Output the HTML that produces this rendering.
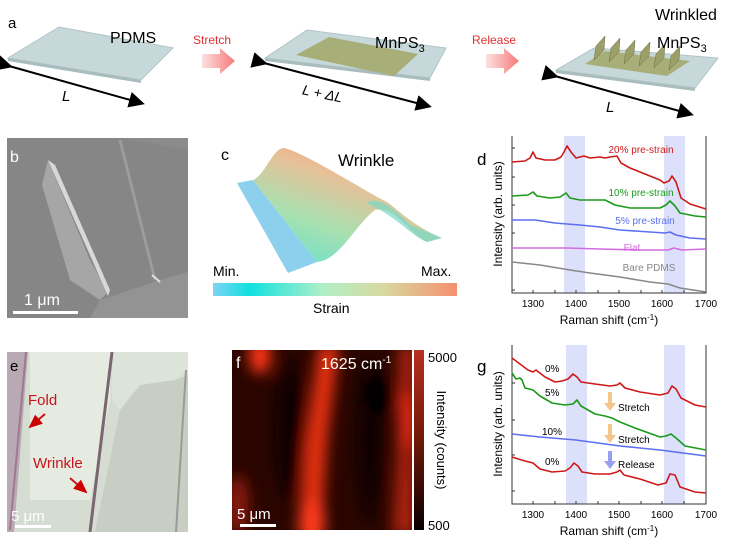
<!DOCTYPE html>
<html><head><meta charset="utf-8"><style>
html,body{margin:0;padding:0;background:#fff}
svg{display:block;font-family:"Liberation Sans",Arial,sans-serif}
</style></head><body>
<svg width="733" height="541" viewBox="0 0 733 541" xmlns="http://www.w3.org/2000/svg">
<defs>
<linearGradient id="pa" x1="0" x2="1"><stop offset="0" stop-color="#fde0e0"/><stop offset="1" stop-color="#f57a7a"/></linearGradient>
<linearGradient id="cb" x1="0" x2="1"><stop offset="0" stop-color="#7fd3f2"/><stop offset="0.15" stop-color="#10e0e0"/><stop offset="0.45" stop-color="#b0f0c8"/><stop offset="0.7" stop-color="#d8d8a0"/><stop offset="1" stop-color="#f5906e"/></linearGradient>
<linearGradient id="wr" x1="0" y1="1" x2="0.6" y2="0"><stop offset="0" stop-color="#60e0d0"/><stop offset="0.4" stop-color="#a8e0b0"/><stop offset="0.75" stop-color="#e8c098"/><stop offset="1" stop-color="#f09a80"/></linearGradient>
<linearGradient id="fcb" x1="0" y1="0" x2="0" y2="1"><stop offset="0" stop-color="#b83020"/><stop offset="0.5" stop-color="#701808"/><stop offset="1" stop-color="#080000"/></linearGradient>
<filter id="bl" x="-50%" y="-50%" width="200%" height="200%"><feGaussianBlur stdDeviation="7"/></filter>
<clipPath id="fc"><rect x="232" y="350" width="180" height="180"/></clipPath>
<clipPath id="ec"><rect x="7" y="352" width="181" height="180"/></clipPath>
<marker id="ah" markerWidth="8" markerHeight="8" refX="6" refY="4" orient="auto"><path d="M0,0 L8,4 L0,8 Z" fill="#000"/></marker>
<marker id="rh" markerWidth="8" markerHeight="8" refX="6" refY="4" orient="auto"><path d="M0,1 L7,4 L0,7 Z" fill="#c00"/></marker>
</defs>

<!-- Panel a -->
<text x="8" y="28" font-size="15">a</text>
<polygon points="8,58 59,27 173,48 141,80" fill="#c6d8da" stroke="#b0c4c6"/>
<polygon points="8,58 141,80 141,83 8,61" fill="#a9bcbe"/>
<line x1="9" y1="66" x2="141" y2="103" stroke="#000" stroke-width="2" marker-end="url(#ah)" marker-start="url(#ah)"/>
<text x="62" y="101" font-size="15" font-style="italic">L</text>
<text x="110" y="43" font-size="16">PDMS</text>
<text x="193" y="44" font-size="12" fill="#e03030">Stretch</text>
<polygon points="202,54 220,54 220,48 235,61 220,74 220,68 202,68" fill="url(#pa)"/>

<polygon points="265,58 307,30 446,48 430,78" fill="#c6d8da" stroke="#b0c4c6"/>
<polygon points="265,58 430,78 430,81 265,61" fill="#a9bcbe"/>
<polygon points="296,55 329,37 418,54 394,76" fill="#a8ae78"/>
<line x1="264" y1="63" x2="428" y2="106" stroke="#000" stroke-width="2" marker-end="url(#ah)" marker-start="url(#ah)"/>
<text x="302" y="100" font-size="14" font-style="italic" transform="rotate(12 330 95)">L + ΔL</text>
<text x="375" y="48" font-size="16">MnPS<tspan font-size="11" dy="4">3</tspan></text>
<text x="472" y="44" font-size="12" fill="#e03030">Release</text>
<polygon points="486,54 504,54 504,48 519,61 504,74 504,68 486,68" fill="url(#pa)"/>

<polygon points="556,70 594,48 718,58 695,88" fill="#c6d8da" stroke="#b0c4c6"/>
<polygon points="556,70 695,88 695,91 556,73" fill="#a9bcbe"/>
<polygon points="585,64 605,51 690,61 667,76" fill="#a8ae78"/>
<g fill="#9ca068" stroke="#6a6e48" stroke-width="0.5">
<polygon points="594,60 604,50 605,36 596,46"/>
<polygon points="609,62 619,52 620,38 611,48"/>
<polygon points="624,64 634,54 635,40 626,50"/>
<polygon points="639,66 649,56 650,42 641,52"/>
<polygon points="654,68 664,58 665,44 656,54"/>
<polygon points="669,70 679,60 680,46 671,56"/>
</g>
<line x1="555" y1="76" x2="690" y2="114" stroke="#000" stroke-width="2" marker-end="url(#ah)" marker-start="url(#ah)"/>
<text x="606" y="112" font-size="15" font-style="italic">L</text>
<text x="655" y="20" font-size="16">Wrinkled</text>
<text x="657" y="48" font-size="16">MnPS<tspan font-size="11" dy="4">3</tspan></text>

<!-- Panel b -->
<rect x="7" y="138" width="181" height="180" fill="#8b8b8b"/>
<polygon points="7,138 120,138 188,150 188,318 7,318" fill="#868686"/>
<polygon points="42,185 48,160 90,260 108,292 100,300 70,280" fill="#a6a6a6"/>
<polygon points="48,160 55,165 110,290 108,296" fill="#d8d8d8"/>
<line x1="120" y1="140" x2="155" y2="280" stroke="#9c9c9c" stroke-width="3"/>
<polygon points="100,300 160,280 188,272 188,318 90,318" fill="#939393"/>
<line x1="152" y1="275" x2="160" y2="282" stroke="#e0e0e0" stroke-width="2"/>
<text x="10" y="162" font-size="16" fill="#fff">b</text>
<text x="24" y="305" font-size="16" fill="#fff">1 μm</text>
<rect x="13" y="311" width="65" height="3" fill="#fff"/>

<!-- Panel c -->
<text x="221" y="160" font-size="16">c</text>
<text x="338" y="166" font-size="17">Wrinkle</text>
<polygon points="237,183 253,180 317,262 288,273" fill="#8cd0ee"/>
<path d="M253,180 C265,175 272,150 283,148 C300,150 360,188 383,200 C395,205 405,222 442,238 L427,242 C410,235 395,205 375,210 C355,225 340,260 317,262 Z" fill="url(#wr)"/>
<path d="M366,203 C380,195 395,210 410,225 L442,238 L427,242 C410,235 395,215 366,203 Z" fill="#78d8c8" opacity="0.7"/>
<rect x="213" y="283" width="244" height="13" fill="url(#cb)"/>
<text x="213" y="276" font-size="14">Min.</text>
<text x="421" y="276" font-size="14">Max.</text>
<text x="313" y="313" font-size="14">Strain</text>

<!-- Panel d -->
<rect x="564" y="136" width="21" height="157" fill="#dde0fb"/>
<rect x="664" y="136" width="21" height="157" fill="#dde0fb"/>
<g stroke="#333" stroke-width="1" fill="none">
<path d="M512,136 V293 H706 V136"/>
<path d="M512,148 h3 M512,177 h3 M512,205 h3 M512,233 h3 M512,262 h3 M512,290 h3"/>
<path d="M533,293 v-3 M555,293 v-3 M576,293 v-3 M598,293 v-3 M619,293 v-3 M641,293 v-3 M662,293 v-3 M684,293 v-3"/>
</g>
<g fill="none" stroke-width="1.6" stroke-linejoin="round">
<path stroke="#d01818" d="M512,162 L525,161 L530,158 L533,152 L536,158 L545,160 L555,160 L561,157 L564,152 L567,146 L571,152 L576,158 L584,156 L590,158 L600,157 L605,158 L610,157 L617,156 L621,163 L630,168 L645,174 L660,180 L664,183 L669,181 L672,176 L676,182 L681,198 L690,204 L706,209"/>
<path stroke="#1a9a1a" d="M512,196 L528,195 L533,192 L537,196 L550,198 L560,197 L566,193 L570,198 L580,200 L595,200 L605,200 L615,205 L630,208 L660,208 L666,205 L670,201 L675,206 L680,213 L695,216 L706,217"/>
<path stroke="#5a70f0" d="M512,220 L535,220 L555,223 L567,224 L580,225 L600,227 L620,230 L650,232 L665,233 L670,232 L676,235 L690,238 L706,239"/>
<path stroke="#d46ae0" d="M512,248 L540,248 L567,248 L600,249 L640,250 L668,250 L674,248 L682,250 L706,249"/>
<path stroke="#888" d="M512,262 L540,265 L570,270 L590,273 L620,277 L650,282 L668,284 L680,288 L706,292"/>
</g>
<g font-size="10">
<text x="641" y="153" fill="#d01818" text-anchor="middle">20% pre-strain</text>
<text x="641" y="196" fill="#1a9a1a" text-anchor="middle">10% pre-strain</text>
<text x="645" y="224" fill="#5a70f0" text-anchor="middle">5% pre-strain</text>
<text x="632" y="251" fill="#d46ae0" text-anchor="middle">Flat</text>
<text x="649" y="271" fill="#888" text-anchor="middle">Bare PDMS</text>
</g>
<text x="477" y="165" font-size="17">d</text>
<g font-size="10" text-anchor="middle">
<text x="533" y="307">1300</text><text x="576" y="307">1400</text><text x="619" y="307">1500</text><text x="662" y="307">1600</text><text x="706" y="307">1700</text>
</g>
<text x="609" y="324" font-size="12" text-anchor="middle">Raman shift (cm<tspan font-size="8" dy="-4">-1</tspan><tspan dy="4">)</tspan></text>
<text transform="translate(502,214) rotate(-90)" font-size="12" text-anchor="middle">Intensity (arb. units)</text>

<!-- Panel e -->
<g clip-path="url(#ec)">
<rect x="7" y="352" width="181" height="180" fill="#d5dcd1"/>
<polygon points="30,352 112,352 110,400 90,500 30,500" fill="#e6ebe2"/>
<polygon points="112,352 188,352 188,370 175,380 140,385 120,410 112,400" fill="#dce3d8"/>
<polygon points="120,410 140,385 175,380 188,375 188,532 95,532" fill="#c8cec4"/>
<polygon points="7,352 28,352 14,532 7,532" fill="#b8a9b3"/>
<line x1="26" y1="352" x2="10" y2="530" stroke="#a07890" stroke-width="2"/>
<line x1="112" y1="352" x2="90" y2="532" stroke="#7a6670" stroke-width="3"/>
<line x1="186" y1="370" x2="176" y2="532" stroke="#9a9a98" stroke-width="2"/>
</g>
<text x="10" y="371" font-size="15">e</text>
<text x="28" y="405" font-size="15" fill="#c8141a">Fold</text>
<line x1="45" y1="414" x2="30" y2="427" stroke="#c8141a" stroke-width="2" marker-end="url(#rh)"/>
<text x="33" y="468" font-size="15" fill="#c8141a">Wrinkle</text>
<line x1="70" y1="478" x2="86" y2="492" stroke="#c8141a" stroke-width="2" marker-end="url(#rh)"/>
<text x="11" y="521" font-size="15" fill="#fff">5 μm</text>
<rect x="15" y="525" width="36" height="3" fill="#fff"/>

<!-- Panel f -->
<rect x="232" y="350" width="180" height="180" fill="#2a0500"/>
<g clip-path="url(#fc)">
<g filter="url(#bl)">
<ellipse cx="290" cy="430" rx="14" ry="70" fill="#0a0000"/>
<ellipse cx="370" cy="440" rx="12" ry="80" fill="#0c0100"/>
<ellipse cx="382" cy="395" rx="14" ry="20" fill="#000"/>
<ellipse cx="260" cy="356" rx="11" ry="18" fill="#ff3418"/>
<path d="M318,345 L340,345 L328,440 L322,535 L298,535 L305,440 Z" fill="#c82610"/>
<path d="M323,345 L334,345 L322,440 L316,535 L306,535 L312,440 Z" fill="#ee3418"/>
<ellipse cx="312" cy="522" rx="13" ry="24" fill="#ff3a1a"/>
<path d="M398,345 L416,345 L416,535 L392,535 L398,430 Z" fill="#a82010"/>
<ellipse cx="408" cy="420" rx="8" ry="28" fill="#e82c14"/>
<ellipse cx="238" cy="505" rx="10" ry="30" fill="#901a08"/>
</g>
</g>
<rect x="414" y="350" width="10" height="180" fill="url(#fcb)"/>
<text x="236" y="368" font-size="16" fill="#fff">f</text>
<text x="321" y="369" font-size="16" fill="#fff">1625 cm<tspan font-size="10" dy="-6">-1</tspan></text>
<text x="237" y="519" font-size="15" fill="#fff">5 μm</text>
<rect x="240" y="524" width="36" height="3" fill="#fff"/>
<text x="428" y="362" font-size="13">5000</text>
<text x="428" y="530" font-size="13">500</text>
<text transform="translate(437,440) rotate(90)" font-size="13" text-anchor="middle">Intensity (counts)</text>

<!-- Panel g -->
<rect x="566" y="345" width="21" height="159" fill="#dde0fb"/>
<rect x="664" y="345" width="21" height="159" fill="#dde0fb"/>
<g stroke="#333" stroke-width="1" fill="none">
<path d="M512,345 V504 H706 V345"/>
<path d="M512,383 h3 M512,420 h3 M512,455 h3 M512,491 h3"/>
<path d="M533,504 v-3 M555,504 v-3 M576,504 v-3 M598,504 v-3 M619,504 v-3 M641,504 v-3 M662,504 v-3 M684,504 v-3"/>
</g>
<g fill="none" stroke-width="1.6" stroke-linejoin="round">
<path stroke="#d01818" d="M512,358 L520,364 L528,370 L533,372 L536,370 L545,377 L555,382 L562,381 L568,379 L573,374 L577,377 L581,382 L595,384 L610,386 L617,385 L620,383 L625,388 L640,392 L660,395 L668,393 L672,386 L676,389 L681,398 L695,405 L706,407"/>
<path stroke="#1a9a1a" d="M512,373 L516,379 L520,378 L522,380 L525,388 L533,390 L540,396 L552,403 L565,405 L573,404 L577,400 L581,406 L595,414 L605,416 L612,418 L620,422 L635,428 L660,437 L666,436 L671,434 L676,438 L685,446 L706,450"/>
<path stroke="#5a70f0" d="M512,434 L540,437 L576,440 L620,446 L660,450 L706,456"/>
<path stroke="#d01818" d="M512,457 L525,461 L533,463 L540,469 L552,472 L565,471 L570,468 L574,463 L578,466 L582,472 L595,474 L610,474 L617,472 L620,470 L624,475 L640,479 L658,485 L666,483 L670,474 L675,475 L680,487 L695,492 L706,493"/>
</g>
<g font-size="10">
<text x="545" y="372">0%</text>
<text x="545" y="396">5%</text>
<text x="542" y="435">10%</text>
<text x="545" y="465">0%</text>
<text x="618" y="411">Stretch</text>
<text x="618" y="443">Stretch</text>
<text x="618" y="468">Release</text>
</g>
<polygon points="608,392 612,392 612,403 616,403 610,411 604,403 608,403" fill="#f5c58a"/>
<polygon points="608,424 612,424 612,435 616,435 610,443 604,435 608,435" fill="#f5c58a"/>
<polygon points="608,451 612,451 612,461 616,461 610,469 604,461 608,461" fill="#9aa0f0"/>
<text x="477" y="372" font-size="17">g</text>
<g font-size="10" text-anchor="middle">
<text x="533" y="518">1300</text><text x="576" y="518">1400</text><text x="619" y="518">1500</text><text x="662" y="518">1600</text><text x="706" y="518">1700</text>
</g>
<text x="609" y="535" font-size="12" text-anchor="middle">Raman shift (cm<tspan font-size="8" dy="-4">-1</tspan><tspan dy="4">)</tspan></text>
<text transform="translate(502,424) rotate(-90)" font-size="12" text-anchor="middle">Intensity (arb. units)</text>
</svg>
</body></html>
